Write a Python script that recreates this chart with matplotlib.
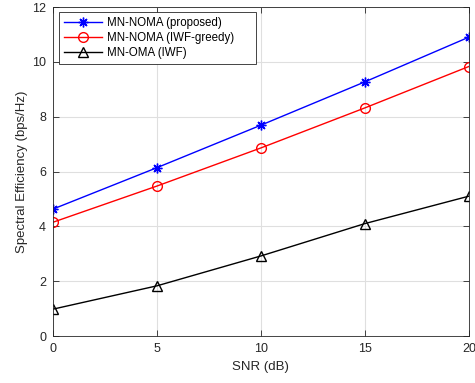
import numpy as np
import matplotlib.pyplot as plt

plt.rcParams['font.family'] = ['Liberation Sans', 'DejaVu Sans']

snr = [0, 5, 10, 15, 20]
se_proposed = [4.63, 6.14, 7.69, 9.27, 10.90]
se_greedy = [4.15, 5.47, 6.86, 8.32, 9.83]
se_oma = [0.98, 1.83, 2.92, 4.10, 5.10]

fig = plt.figure(figsize=(4.75, 3.83), dpi=100)
ax = fig.add_axes([0.1116, 0.1227, 0.8754, 0.859])

ax.plot(snr, se_proposed, '-', marker=(8, 2, 0), color='blue', lw=1, ms=7, mew=1, label='MN-NOMA (proposed)')
ax.plot(snr, se_greedy, '-o', color='red', lw=1, ms=7, mfc='none', mew=1, label='MN-NOMA (IWF-greedy)')
ax.plot(snr, se_oma, '-^', color='black', lw=1, ms=7, mfc='none', mew=1, label='MN-OMA (IWF)')

ax.set_xlim(0, 20)
ax.set_ylim(0, 12)
ax.set_xticks([0, 5, 10, 15, 20])
ax.set_yticks([0, 2, 4, 6, 8, 10, 12])
ax.grid(True, color='#dfdfdf', lw=0.8)
ax.set_axisbelow(True)
ax.tick_params(direction='in', top=True, right=True, labelsize=9, colors='#262626', length=4, width=0.6, pad=5)
for s in ax.spines.values():
    s.set_color('#262626')
    s.set_linewidth(0.6)
ax.set_xlabel('SNR (dB)', fontsize=9.5, color='#262626', labelpad=4)
ax.set_ylabel('Spectral Efficiency (bps/Hz)', fontsize=9.5, color='#262626', labelpad=3)

leg = ax.legend(loc='upper left', fontsize=8.3, frameon=True, fancybox=False,
                bbox_to_anchor=(0.0144, 0, 0.474, 0.985), mode='expand',
                borderaxespad=0, handlelength=3.3, handletextpad=0.5,
                borderpad=0.4, labelspacing=0.3)
leg.get_frame().set_edgecolor('#262626')
leg.get_frame().set_linewidth(0.6)
leg.get_frame().set_alpha(1)

fig.savefig('out.png', dpi=100)
